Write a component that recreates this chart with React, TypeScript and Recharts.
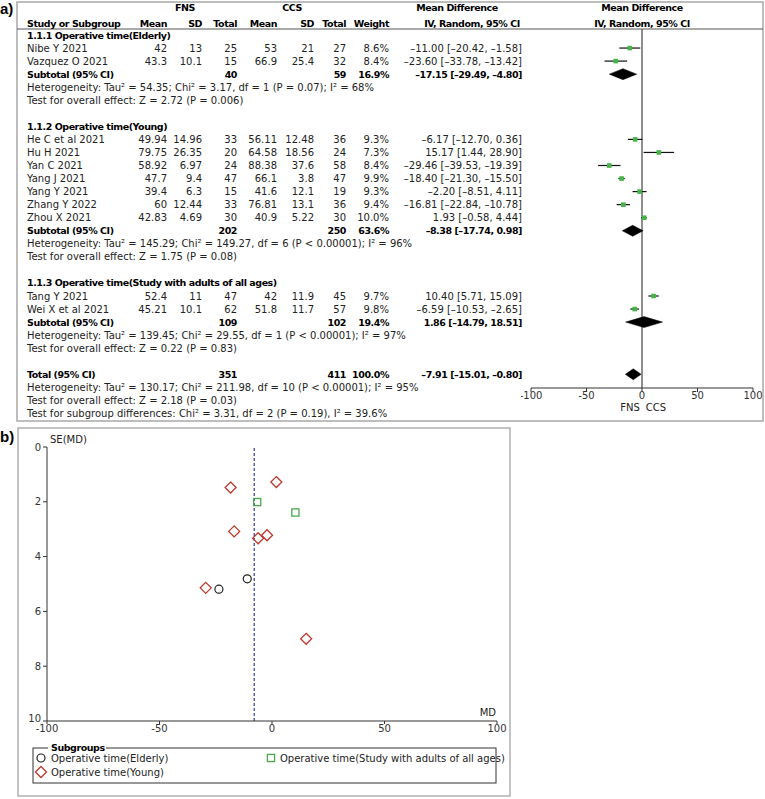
import React from "react";
import { ScatterChart, Scatter, XAxis, YAxis, ReferenceLine, ErrorBar } from "recharts";

const FONT = "DejaVu Sans";

// ---- data ----
const groupTitles = [
  "1.1.1 Operative time(Elderly)",
  "1.1.2 Operative time(Young)",
  "1.1.3 Operative time(Study with adults of all ages)",
];
const legendLabels = [
  "Operative time(Elderly)",
  "Operative time(Young)",
  "Operative time(Study with adults of all ages)",
];
const studyNames = [
  "Nibe Y 2021", "Vazquez O 2021",
  "He C et al 2021", "Hu H 2021", "Yan C 2021", "Yang J 2021", "Yang Y 2021", "Zhang Y 2022", "Zhou X 2021",
  "Tang Y 2021", "Wei X et al 2021",
];
const studyGroup = [0, 0, 1, 1, 1, 1, 1, 1, 1, 2, 2];
const fnsMean = [42, 43.3, 49.94, 79.75, 58.92, 47.7, 39.4, 60, 42.83, 52.4, 45.21];
const fnsSD = [13, 10.1, 14.96, 26.35, 6.97, 9.4, 6.3, 12.44, 4.69, 11, 10.1];
const fnsTotal = [25, 15, 33, 20, 24, 47, 15, 33, 30, 47, 62];
const ccsMean = [53, 66.9, 56.11, 64.58, 88.38, 66.1, 41.6, 76.81, 40.9, 42, 51.8];
const ccsSD = [21, 25.4, 12.48, 18.56, 37.6, 3.8, 12.1, 13.1, 5.22, 11.9, 11.7];
const ccsTotal = [27, 32, 36, 24, 58, 47, 19, 36, 30, 45, 57];
const weights = [8.6, 8.4, 9.3, 7.3, 8.4, 9.9, 9.3, 9.4, 10.0, 9.7, 9.8];
const mdValues = [-11.0, -23.6, -6.17, 15.17, -29.46, -18.4, -2.2, -16.81, 1.93, 10.4, -6.59];
const ciLow = [-20.42, -33.78, -12.7, 1.44, -39.53, -21.3, -8.51, -22.84, -0.58, 5.71, -10.53];
const ciHigh = [-1.58, -13.42, 0.36, 28.9, -19.39, -15.5, 4.11, -10.78, 4.44, 15.09, -2.65];
const seValues = [4.81, 5.19, 3.33, 7.0, 5.14, 1.48, 3.22, 3.08, 1.28, 2.39, 2.01];

const subFnsTotal = [40, 202, 109];
const subCcsTotal = [59, 250, 102];
const subWeight = [16.9, 63.6, 19.4];
const subMd = [-17.15, -8.38, 1.86];
const subLow = [-29.49, -17.74, -14.79];
const subHigh = [-4.8, 0.98, 18.51];
const hetNotes = [
  "Heterogeneity: Tau² = 54.35; Chi² = 3.17, df = 1 (P = 0.07); I² = 68%",
  "Heterogeneity: Tau² = 145.29; Chi² = 149.27, df = 6 (P < 0.00001); I² = 96%",
  "Heterogeneity: Tau² = 139.45; Chi² = 29.55, df = 1 (P < 0.00001); I² = 97%",
];
const effectNotes = [
  "Test for overall effect: Z = 2.72 (P = 0.006)",
  "Test for overall effect: Z = 1.75 (P = 0.08)",
  "Test for overall effect: Z = 0.22 (P = 0.83)",
];
const totalFns = 351;
const totalCcs = 411;
const totalWeight = 100.0;
const totalMd = -7.91;
const totalLow = -15.01;
const totalHigh = -0.8;
const totalNotes = [
  "Heterogeneity: Tau² = 130.17; Chi² = 211.98, df = 10 (P < 0.00001); I² = 95%",
  "Test for overall effect: Z = 2.18 (P = 0.03)",
  "Test for subgroup differences: Chi² = 3.31, df = 2 (P = 0.19), I² = 39.6%",
];
const mdTicks = [-100, -50, 0, 50, 100];
const seTicks = [0, 2, 4, 6, 8, 10];

// ---- layout ----
const ROW0 = 35;
const ROWH = 13.05;
const rowY = (r: number) => ROW0 + ROWH * r;
const PLOT_TOP = 29;
const AXIS_Y = 388;
const COL = { fnsMean: 167, fnsSD: 202, fnsTotal: 237, ccsMean: 277, ccsSD: 314, ccsTotal: 346, weight: 389, md: 522 };

const fmt = (v: number) => v.toFixed(2).replace("-", "–");
const ciText = (m: number, lo: number, hi: number) => `${fmt(m)} [${fmt(lo)}, ${fmt(hi)}]`;

// assign rows
const studyRow: number[] = [];
const groupRow: number[] = [];
const subRow: number[] = [];
let rr = 0;
groupTitles.forEach((_, g) => {
  groupRow[g] = rr++;
  studyGroup.forEach((sg, i) => {
    if (sg === g) studyRow[i] = rr++;
  });
  subRow[g] = rr;
  rr += 4; // subtotal, heterogeneity, effect, blank
});
const totalRow = rr;

const studyPoints = mdValues.map((m, i) => ({
  x: m,
  row: studyRow[i],
  err: [m - ciLow[i], ciHigh[i] - m],
}));
const diamondPoints = (m: number, lo: number, hi: number, r: number) => [
  { x: lo, row: r },
  { x: m, row: r - 0.42 },
  { x: hi, row: r },
  { x: m, row: r + 0.42 },
];
const diamonds = [
  ...subMd.map((m, g) => diamondPoints(m, subLow[g], subHigh[g], subRow[g])),
  diamondPoints(totalMd, totalLow, totalHigh, totalRow),
];

const funnelSets = groupTitles.map((_, g) =>
  mdValues.map((m, i) => ({ md: m, se: seValues[i], g: studyGroup[i] })).filter((p) => p.g === g)
);

// ---- shapes ----
const greenSquare = (p: any) => <rect x={p.cx - 2.3} y={p.cy - 2.3} width={4.6} height={4.6} fill="#45b348" />;
const noShape = () => <g />;
const polygonLine = (p: any) => (
  <polygon points={p.points.map((pt: any) => `${pt.x},${pt.y}`).join(" ")} fill="#000" stroke="#000" strokeWidth={0.5} />
);
const circleMark = (p: any) => <circle cx={p.cx} cy={p.cy} r={4} fill="none" stroke="#222" strokeWidth={1.2} />;
const diamondMark = (p: any) => (
  <path d={`M${p.cx} ${p.cy - 5.5}L${p.cx + 5.5} ${p.cy}L${p.cx} ${p.cy + 5.5}L${p.cx - 5.5} ${p.cy}Z`} fill="none" stroke="#c0392b" strokeWidth={1.3} />
);
const squareMark = (p: any) => <rect x={p.cx - 3.6} y={p.cy - 3.6} width={7.2} height={7.2} fill="none" stroke="#4aa84a" strokeWidth={1.3} />;
const funnelShapes = [circleMark, diamondMark, squareMark];

const tickStyle = { fontSize: 10, fill: "#333", fontFamily: FONT };

// y tick of the funnel: the last label sits a little above its tick, as in the source
const seTick = (p: any) => (
  <text x={p.x} y={p.y} dy={p.payload.value === 10 ? -3 : 0} textAnchor="end" dominantBaseline="central"
    fontSize={10} fill="#333" fontFamily={FONT}>
    {p.payload.value}
  </text>
);

function ForestChart() {
  return (
    <ScatterChart width={242} height={420} margin={{ top: PLOT_TOP, right: 10, bottom: 0, left: 10 }}>
      <XAxis type="number" dataKey="x" domain={[-100, 100]} ticks={mdTicks} interval={0} allowDataOverflow
        height={420 - AXIS_Y} tickSize={4} tickMargin={0} stroke="#333" tick={tickStyle} />
      <YAxis type="number" dataKey="row" reversed hide allowDataOverflow
        domain={[(PLOT_TOP - ROW0) / ROWH, (AXIS_Y - ROW0) / ROWH]} />
      <ReferenceLine x={0} stroke="#444" strokeWidth={1.2} />
      {diamonds.map((d, k) => (
        <Scatter key={k} data={d} shape={noShape} line={polygonLine} lineType="joint" isAnimationActive={false} />
      ))}
      <Scatter data={studyPoints} shape={greenSquare} isAnimationActive={false}>
        <ErrorBar dataKey="err" direction="x" width={0} stroke="#111" strokeWidth={1.2} />
      </Scatter>
    </ScatterChart>
  );
}

function FunnelChart() {
  return (
    <ScatterChart width={510} height={308} margin={{ top: 14, right: 13, bottom: 0, left: 17 }}>
      <XAxis type="number" dataKey="md" domain={[-100, 100]} ticks={mdTicks} interval={0} allowDataOverflow
        height={20} tickSize={3} tickMargin={1} stroke="#333" tick={tickStyle} />
      <YAxis type="number" dataKey="se" domain={[0, 10]} reversed ticks={seTicks} interval={0} allowDataOverflow
        width={30} tickSize={4} tickMargin={2} stroke="#333" tick={seTick} />
      <ReferenceLine x={totalMd} stroke="#2b3a9e" strokeWidth={1.2} strokeDasharray="3 2" />
      {funnelSets.map((d, g) => (
        <Scatter key={g} data={d} shape={funnelShapes[g]} isAnimationActive={false} />
      ))}
    </ScatterChart>
  );
}

function T({ x, y, a = "start", b = false, children }: any) {
  return (
    <text x={x} y={y} textAnchor={a} dominantBaseline="central" fontSize={b ? 9.5 : 10}
      fontWeight={b ? 700 : 400} letterSpacing={b ? -0.45 : 0} fill={b ? "#000" : "#222"} fontFamily={FONT}>
      {children}
    </text>
  );
}

export default function App() {
  const h1 = 7;
  const h2 = 23;
  return (
    <div style={{ position: "absolute", left: 0, top: 0, width: 765, height: 799, background: "#fff", fontFamily: FONT }}>
      <div style={{ position: "absolute", left: 521, top: 0 }}>
        <ForestChart />
      </div>
      <div style={{ position: "absolute", left: 0, top: 433 }}>
        <FunnelChart />
      </div>
      <svg width={765} height={799} style={{ position: "absolute", left: 0, top: 0, pointerEvents: "none" }}>
        {/* panel a */}
        <text x={0} y={14} fontSize={15} fontWeight={700} fontFamily="Liberation Sans">a)</text>
        <rect x={17} y={2} width={746} height={419} fill="none" stroke="#a8a8a8" strokeWidth={1.5} />
        <line x1={17} x2={763} y1={PLOT_TOP} y2={PLOT_TOP} stroke="#555" strokeWidth={1} />

        <T x={185} y={h1} a="middle" b>FNS</T>
        <T x={292} y={h1} a="middle" b>CCS</T>
        <T x={457} y={h1} a="middle" b>Mean Difference</T>
        <T x={642} y={h1} a="middle" b>Mean Difference</T>
        <T x={27} y={h2} b>Study or Subgroup</T>
        <T x={COL.fnsMean} y={h2} a="end" b>Mean</T>
        <T x={COL.fnsSD} y={h2} a="end" b>SD</T>
        <T x={COL.fnsTotal} y={h2} a="end" b>Total</T>
        <T x={COL.ccsMean} y={h2} a="end" b>Mean</T>
        <T x={COL.ccsSD} y={h2} a="end" b>SD</T>
        <T x={COL.ccsTotal} y={h2} a="end" b>Total</T>
        <T x={COL.weight} y={h2} a="end" b>Weight</T>
        <T x={472} y={h2} a="middle" b>IV, Random, 95% CI</T>
        <T x={642} y={h2} a="middle" b>IV, Random, 95% CI</T>

        {groupTitles.map((t, g) => (
          <g key={"g" + g}>
            <T x={27} y={rowY(groupRow[g])} b>{t}</T>
            <T x={27} y={rowY(subRow[g])} b>Subtotal (95% CI)</T>
            <T x={COL.fnsTotal} y={rowY(subRow[g])} a="end" b>{subFnsTotal[g]}</T>
            <T x={COL.ccsTotal} y={rowY(subRow[g])} a="end" b>{subCcsTotal[g]}</T>
            <T x={COL.weight} y={rowY(subRow[g])} a="end" b>{subWeight[g].toFixed(1)}%</T>
            <T x={COL.md} y={rowY(subRow[g])} a="end" b>{ciText(subMd[g], subLow[g], subHigh[g])}</T>
            <T x={27} y={rowY(subRow[g] + 1)}>{hetNotes[g]}</T>
            <T x={27} y={rowY(subRow[g] + 2)}>{effectNotes[g]}</T>
          </g>
        ))}
        {studyNames.map((n, i) => {
          const y = rowY(studyRow[i]);
          return (
            <g key={"s" + i}>
              <T x={27} y={y}>{n}</T>
              <T x={COL.fnsMean} y={y} a="end">{fnsMean[i]}</T>
              <T x={COL.fnsSD} y={y} a="end">{fnsSD[i]}</T>
              <T x={COL.fnsTotal} y={y} a="end">{fnsTotal[i]}</T>
              <T x={COL.ccsMean} y={y} a="end">{ccsMean[i]}</T>
              <T x={COL.ccsSD} y={y} a="end">{ccsSD[i]}</T>
              <T x={COL.ccsTotal} y={y} a="end">{ccsTotal[i]}</T>
              <T x={COL.weight} y={y} a="end">{weights[i].toFixed(1)}%</T>
              <T x={COL.md} y={y} a="end">{ciText(mdValues[i], ciLow[i], ciHigh[i])}</T>
            </g>
          );
        })}
        <T x={27} y={rowY(totalRow)} b>Total (95% CI)</T>
        <T x={COL.fnsTotal} y={rowY(totalRow)} a="end" b>{totalFns}</T>
        <T x={COL.ccsTotal} y={rowY(totalRow)} a="end" b>{totalCcs}</T>
        <T x={COL.weight} y={rowY(totalRow)} a="end" b>{totalWeight.toFixed(1)}%</T>
        <T x={COL.md} y={rowY(totalRow)} a="end" b>{ciText(totalMd, totalLow, totalHigh)}</T>
        {totalNotes.map((t, k) => (
          <T key={"t" + k} x={27} y={rowY(totalRow + 1 + k)}>{t}</T>
        ))}
        <T x={630} y={407} a="middle">FNS</T>
        <T x={656} y={407} a="middle">CCS</T>

        {/* panel b */}
        <text x={0} y={442} fontSize={15} fontWeight={700} fontFamily="Liberation Sans">b)</text>
        <rect x={18} y={428} width={492} height={368} fill="none" stroke="#b0b0b0" strokeWidth={1.5} />
        <T x={50} y={439}>SE(MD)</T>
        <T x={496} y={712} a="end">MD</T>
        <rect x={33} y={748} width={463} height={35} fill="none" stroke="#333" strokeWidth={1} />
        <rect x={48} y={742} width={58} height={10} fill="#fff" />
        <T x={51} y={747} b>Subgroups</T>
        <circle cx={41} cy={758} r={4} fill="none" stroke="#222" strokeWidth={1.2} />
        <T x={51} y={758}>{legendLabels[0]}</T>
        <path d="M41 766.5L46.5 772L41 777.5L35.5 772Z" fill="none" stroke="#c0392b" strokeWidth={1.3} />
        <T x={51} y={772}>{legendLabels[1]}</T>
        <rect x={267.4} y={754.4} width={7.2} height={7.2} fill="none" stroke="#4aa84a" strokeWidth={1.3} />
        <T x={280} y={758}>{legendLabels[2]}</T>
      </svg>
    </div>
  );
}
